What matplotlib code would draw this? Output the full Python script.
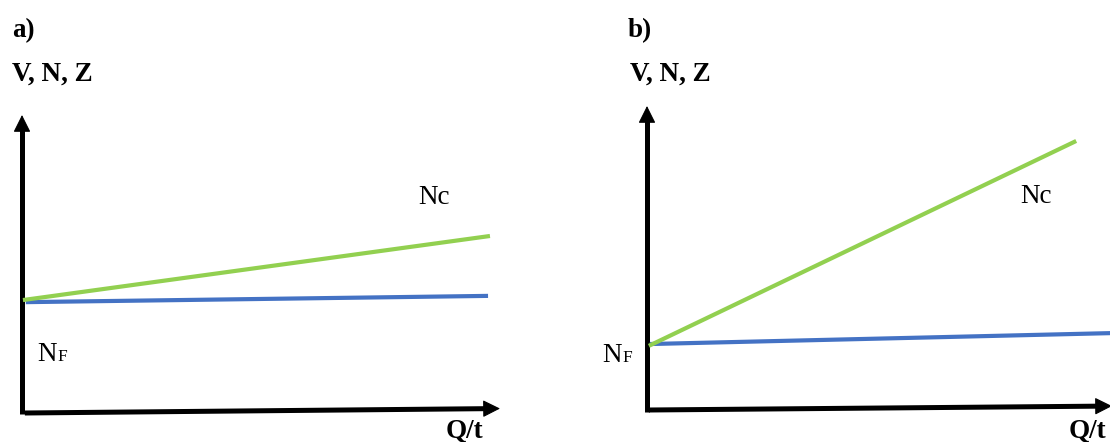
import matplotlib
matplotlib.use("Agg")
import matplotlib.pyplot as plt

# ---- data (schematic units: Q/t on x, V/N/Z on y, axes span 0..10) ----
# panel a
qt_a_nc = [0.02, 9.79]
nc_a = [3.79, 5.94]
qt_a_nf = [0.08, 9.75]
nf_a = [3.72, 3.93]
xaxis_a_x = [0.06, 10.0]
xaxis_a_y = [0.0, 0.15]
# panel b
qt_b_nc = [0.04, 9.23]
nc_b = [2.11, 8.85]
qt_b_nf = [0.06, 10.0]
nf_b = [2.17, 2.53]
xaxis_b_x = [0.04, 10.0]
xaxis_b_y = [0.0, 0.13]

panel_labels = ["a)", "b)"]
y_label = "V, N, Z"
x_label = "Q/t"

W, H = 1110, 442
GREEN = "#92D050"
BLUE = "#4472C4"
FONT = "Liberation Serif"

fig = plt.figure(figsize=(W / 100, H / 100), dpi=100)


def px_axes(left, right, bottom, top):
    return fig.add_axes([left / W, 1 - bottom / H, (right - left) / W, (bottom - top) / H])


def ftext(x, y, s, **kw):
    fig.text(x / W, 1 - y / H, s, family=FONT, va="baseline", ha="left", **kw)


def draw_panel(ax, xax_x, xax_y, qt_nc, nc, qt_nf, nf):
    ax.set_xlim(0, 10)
    ax.set_ylim(0, 10)
    ax.axis("off")
    lw_axis = 3.6
    # vertical axis
    ax.plot([0, 0], [-0.05, 9.5], color="black", lw=lw_axis, solid_capstyle="butt", clip_on=False)
    ax.annotate("", xy=(0, 10), xytext=(0, 9.0),
                arrowprops=dict(arrowstyle="-|>,head_length=0.4,head_width=0.2",
                                mutation_scale=27, lw=0.8, color="black",
                                shrinkA=0, shrinkB=0), annotation_clip=False)
    # horizontal axis
    ax.plot([xax_x[0], xax_x[1] - 0.2], [xax_y[0], xax_y[1] * (1 - 0.02)], color="black",
            lw=lw_axis, solid_capstyle="butt", clip_on=False)
    ax.annotate("", xy=(xax_x[1], xax_y[1]), xytext=(xax_x[1] - 0.6, xax_y[1] * 0.94),
                arrowprops=dict(arrowstyle="-|>,head_length=0.4,head_width=0.2",
                                mutation_scale=27, lw=0.8, color="black",
                                shrinkA=0, shrinkB=0), annotation_clip=False)
    ax.plot(qt_nf, nf, color=BLUE, lw=3.0, solid_capstyle="butt", clip_on=False)
    ax.plot(qt_nc, nc, color=GREEN, lw=3.0, solid_capstyle="butt", clip_on=False)


ax_a = px_axes(22, 500, 413, 115)
draw_panel(ax_a, xaxis_a_x, xaxis_a_y, qt_a_nc, nc_a, qt_a_nf, nf_a)
ax_b = px_axes(647, 1112, 410, 106)
draw_panel(ax_b, xaxis_b_x, xaxis_b_y, qt_b_nc, nc_b, qt_b_nf, nf_b)

# texts panel a
ftext(12, 37, panel_labels[0], fontsize=19.5, weight="bold")
ftext(12, 81, y_label, fontsize=19.5, weight="bold")
ftext(418, 204, "Nc", fontsize=19.5)
ftext(37, 361, "N", fontsize=19.5)
ftext(57.5, 361, "F", fontsize=12.5)
ftext(446, 438, x_label, fontsize=19.5, weight="bold")

# texts panel b
ftext(628, 37, panel_labels[1], fontsize=19.5, weight="bold")
ftext(630, 81, y_label, fontsize=19.5, weight="bold")
ftext(1020, 203, "Nc", fontsize=19.5)
ftext(602, 362, "N", fontsize=19.5)
ftext(622.5, 362, "F", fontsize=12.5)
ftext(1069, 438, x_label, fontsize=19.5, weight="bold")

fig.savefig("out.png", dpi=100)
